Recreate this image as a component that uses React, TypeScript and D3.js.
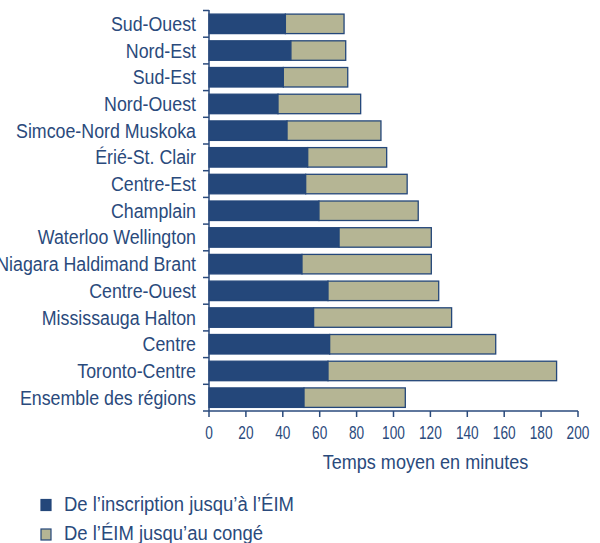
import React from "react";
import * as d3 from "d3";

const regions = [
  "Sud-Ouest",
  "Nord-Est",
  "Sud-Est",
  "Nord-Ouest",
  "Simcoe-Nord Muskoka",
  "Érié-St. Clair",
  "Centre-Est",
  "Champlain",
  "Waterloo Wellington",
  "Niagara Haldimand Brant",
  "Centre-Ouest",
  "Mississauga Halton",
  "Centre",
  "Toronto-Centre",
  "Ensemble des régions",
];
const inscriptionToEIM = [41.4, 44.4, 40.3, 37.4, 42.3, 53.5, 52.4, 59.6, 70.5, 50.4, 64.5, 56.7, 65.4, 64.5, 51.5];
const eimToConge = [31.8, 29.7, 34.9, 44.8, 50.9, 42.8, 55.0, 53.8, 50.0, 70.1, 60.0, 74.8, 90.0, 123.9, 54.9];
const xTicks = [0, 20, 40, 60, 80, 100, 120, 140, 160, 180, 200];
const seriesNames = ["De l\u2019inscription jusqu\u2019\u00e0 l\u2019\u00c9IM", "De l\u2019\u00c9IM jusqu\u2019au cong\u00e9"];

const DARK = "#24477a";
const TAN = "#b5b594";
const INK = "#2a4a7c";
const FONT = "'Liberation Sans', Arial, sans-serif";

function NText(props: { x: number; y: number; sx: number; size: number; anchor?: string; children: React.ReactNode }) {
  const { x, y, sx, size, anchor, children } = props;
  return (
    <text
      transform={`translate(${x},${y}) scale(${sx},1)`}
      textAnchor={anchor || "start"}
      fontSize={size}
      fill={INK}
    >
      {children}
    </text>
  );
}

export default function App() {
  const W = 600, H = 543;
  const x = d3.scaleLinear().domain([0, 200]).range([209, 578]);
  const y = d3.scaleBand<string>().domain(regions).range([10.5, 411]).paddingInner(0.27).paddingOuter(0.135);
  const step = y.step();
  const rows = regions.map((r, i) => ({ r, a: inscriptionToEIM[i], b: eimToConge[i] }));
  const stack = d3.stack<any>().keys(["a", "b"])(rows as any);
  const colors = [DARK, TAN];
  const boundaries = d3.range(regions.length + 1).map((k) => 10.5 + k * step);

  return (
    <svg width={W} height={H} style={{ position: "absolute", left: 0, top: 0, background: "#fff" }} fontFamily={FONT}>
      {stack.map((s, si) => (
        <g key={si}>
          {s.map((d, i) => (
            <rect
              key={i}
              x={x(d[0])}
              y={y(regions[i])!}
              width={x(d[1]) - x(d[0])}
              height={y.bandwidth()}
              fill={colors[si]}
              stroke={DARK}
              strokeWidth={1.3}
            />
          ))}
        </g>
      ))}
      {/* y axis */}
      <line x1={209} x2={209} y1={10} y2={411} stroke={INK} strokeWidth={1.5} />
      {boundaries.map((b, i) => (
        <line key={i} x1={203} x2={209} y1={b} y2={b} stroke={INK} strokeWidth={1.5} />
      ))}
      {regions.map((r) => (
        <NText key={r} x={196} y={y(r)! + y.bandwidth() / 2 + 7} sx={0.89} size={20} anchor="end">
          {r}
        </NText>
      ))}
      {/* x axis */}
      <line x1={209} x2={578} y1={411} y2={411} stroke={INK} strokeWidth={1.5} />
      {xTicks.map((t) => (
        <g key={t}>
          <line x1={x(t)} x2={x(t)} y1={411} y2={417} stroke={INK} strokeWidth={1.5} />
          <NText x={x(t)} y={438.5} sx={0.76} size={18} anchor="middle">
            {t}
          </NText>
        </g>
      ))}
      <NText x={425.5} y={468.5} sx={0.86} size={21} anchor="middle">
        Temps moyen en minutes
      </NText>
      {/* legend */}
      {seriesNames.map((n, i) => (
        <g key={n}>
          <rect x={41} y={499.5 + i * 29.5} width={10} height={11} fill={colors[i]} stroke={DARK} strokeWidth={1.2} />
          <NText x={64} y={510.5 + i * 29.5} sx={0.88} size={21}>
            {n}
          </NText>
        </g>
      ))}
    </svg>
  );
}
